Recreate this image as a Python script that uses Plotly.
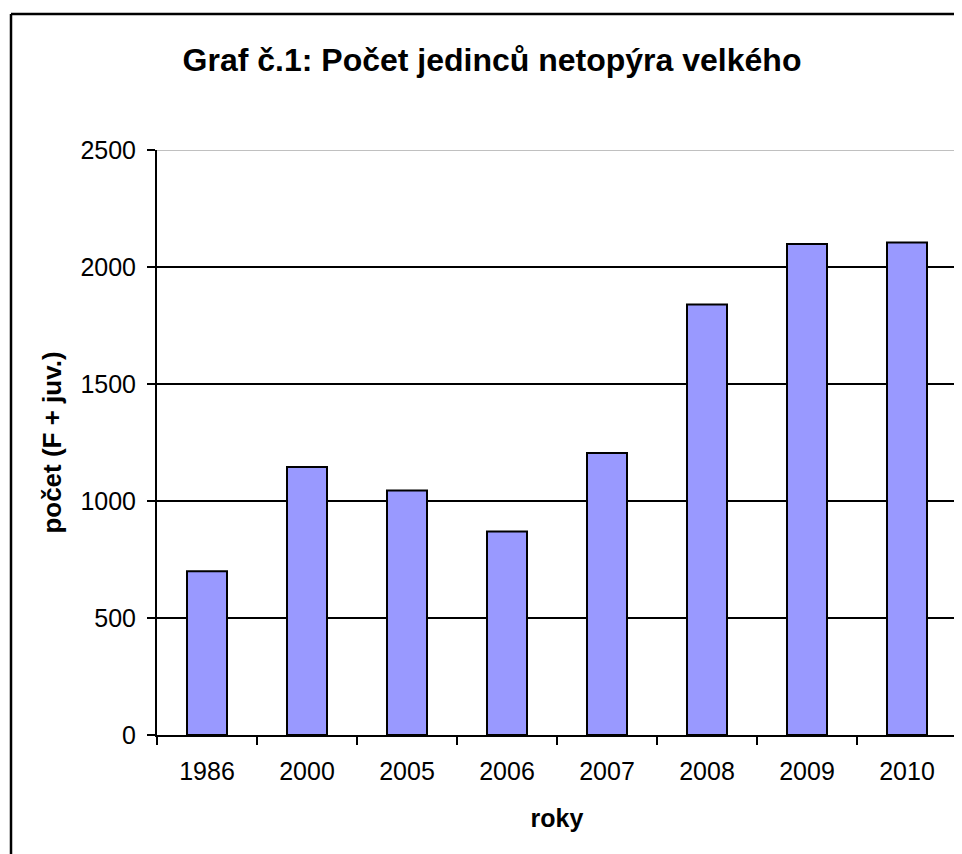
import plotly.graph_objects as go

years = ["1986", "2000", "2005", "2006", "2007", "2008", "2009", "2010"]
counts = [700, 1145, 1045, 870, 1205, 1840, 2098, 2105]
y_ticks = [0, 500, 1000, 1500, 2000, 2500]

FONT = "Liberation Sans, Arial, sans-serif"
OFF = 8  # default page body margin

W, H = 962 - OFF, 854 - OFF

fig = go.Figure()
fig.add_trace(go.Bar(
    x=years, y=counts,
    marker=dict(color="#9999FF", line=dict(color="black", width=2)),
    showlegend=False, hoverinfo="x+y",
))

# gridlines
for v in y_ticks[1:]:
    fig.add_shape(type="line", xref="paper", yref="y", x0=0, x1=1, y0=v, y1=v,
                  line=dict(color="#c0c0c0" if v == y_ticks[-1] else "black", width=1.8),
                  layer="below")

# outer chart frame (left and top edges visible)
fig.add_shape(type="line", xref="paper", yref="paper", x0=-0.1825, x1=-0.1825, y0=-0.3, y1=1.2325,
              line=dict(color="black", width=2.5))
fig.add_shape(type="line", xref="paper", yref="paper", x0=-0.1825, x1=1.05, y0=1.2325, y1=1.2325,
              line=dict(color="black", width=2.5))

fig.update_layout(
    width=W, height=H,
    margin=dict(l=157 - OFF, r=5, t=150 - OFF, b=119),
    paper_bgcolor="white", plot_bgcolor="white",
    bargap=0.6,
    font=dict(family=FONT, color="black", size=25),
    title=dict(text="<b>Graf č.1: Počet jedinců netopýra velkého</b>",
               x=(492 - OFF) / W, xref="container", xanchor="center",
               y=1 - (60 - OFF) / H, yref="container", yanchor="middle",
               font=dict(size=32, family=FONT, color="black")),
    xaxis=dict(type="category", showline=True, linecolor="black", linewidth=2,
               ticks="outside", tickson="boundaries", ticklen=8, tickwidth=2, tickcolor="black",
               tickfont=dict(size=25), showgrid=False, ticklabelstandoff=13,
               title=dict(text="<b>roky</b>", font=dict(size=25), standoff=25)),
    yaxis=dict(range=[0, 2500], tickvals=y_ticks, showline=True, linecolor="black", linewidth=2,
               ticks="outside", ticklen=8, tickwidth=2, tickcolor="black",
               tickfont=dict(size=25), showgrid=False, zeroline=False, ticklabelstandoff=6,
               title=dict(text="<b>počet (F + juv.)</b>", font=dict(size=26), standoff=11)),
)

fig.write_html("out.html")
